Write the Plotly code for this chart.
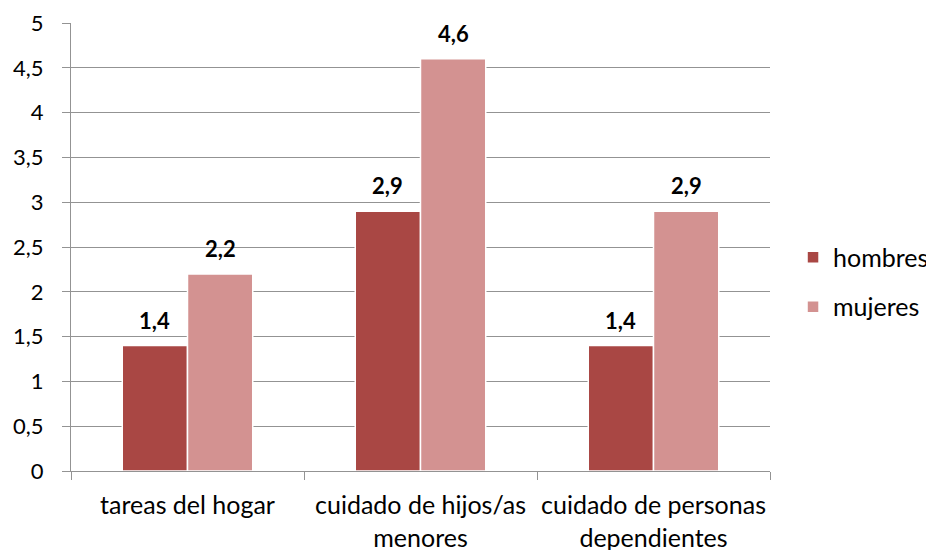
import plotly.graph_objects as go

categories = ["tareas del hogar", "cuidado de hijos/as<br>menores", "cuidado de personas<br>dependientes"]
hombres = [1.4, 2.9, 1.4]
mujeres = [2.2, 4.6, 2.9]
y_ticks = [0, 0.5, 1, 1.5, 2, 2.5, 3, 3.5, 4, 4.5, 5]

font_family = "Lato, 'Open Sans', sans-serif"
grid_color = "#939393"

fig = go.Figure()
series = [("hombres", hombres, "#A94744", -33), ("mujeres", mujeres, "#D39291", 33)]
for name, vals, color, shift in series:
    fig.add_trace(go.Bar(
        name=name, x=categories, y=vals,
        marker=dict(color=color, line=dict(color="white", width=1.5)),
        legendgroup=name,
    ))
    for c, v in zip(categories, vals):
        fig.add_annotation(
            x=c, y=v, xref="x", yref="y",
            text="<b>" + f"{v:.1f}".replace(".", ",") + "</b>",
            showarrow=False, yanchor="bottom", xanchor="center",
            xshift=shift, yshift=10,
            font=dict(size=22, color="black", family=font_family),
        )

fig.update_layout(
    width=934, height=550,
    margin=dict(l=63, r=172, t=15, b=87),
    paper_bgcolor="white", plot_bgcolor="white",
    separators=",.",
    barmode="group", bargap=0.44, bargroupgap=0.0,
    font=dict(family=font_family, size=22, color="black"),
    legend=dict(xref="container", yref="container", x=0.8405, y=0.502,
                xanchor="left", yanchor="middle",
                tracegroupgap=14, font=dict(size=25), itemwidth=30),
    showlegend=True,
)
fig.update_xaxes(
    showline=True, linecolor=grid_color, linewidth=1.2,
    ticks="outside", tickson="boundaries", ticklen=8, tickcolor=grid_color,
    tickfont=dict(size=25), ticklabelstandoff=12, automargin=False, tickangle=0,
)
fig.update_yaxes(
    range=[0, 5], tickvals=y_ticks,
    showgrid=True, gridcolor=grid_color, gridwidth=1.2,
    showline=True, linecolor=grid_color, linewidth=1.2,
    ticks="outside", ticklen=8, tickcolor=grid_color,
    tickfont=dict(size=22), zeroline=False, ticklabelstandoff=14,
    automargin=False,
)

fig.write_html("out.html")
